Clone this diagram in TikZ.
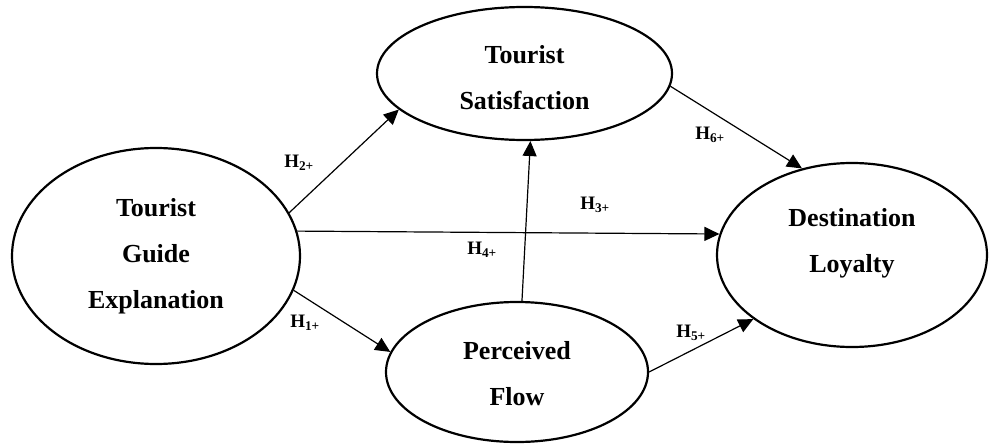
\documentclass[tikz,border=0pt]{standalone}
\usepackage{fontspec}
\setmainfont{Liberation Serif}
\usepackage{tikz}
\usetikzlibrary{arrows.meta,shapes.geometric}

\begin{document}
\begin{tikzpicture}[x=1pt, y=-1pt,
  construct/.style={draw, ellipse, line width=2.2pt, inner sep=0pt, align=center,
                    font=\fontsize{26}{46}\selectfont\bfseries},
  arr/.style={-{Triangle[length=15pt,width=14pt]}, line width=1.2pt},
  hyp/.style={font=\fontsize{19}{19}\selectfont\bfseries, inner sep=0pt}
]
  \useasboundingbox (0,0) rectangle (990,444);
  \node[construct, minimum width=288pt, minimum height=216pt] (tge) at (156,256) {Tourist\\Guide\\Explanation};
  \node[construct, minimum width=295pt, minimum height=133pt] (ts) at (524.5,73.5) {\rule{0pt}{26pt}Tourist\\Satisfaction};
  \node[construct, minimum width=262pt, minimum height=140pt] (pf) at (517,372) {\rule{0pt}{22pt}Perceived\\Flow};
  \node[construct, minimum width=270pt, minimum height=184pt, text depth=30pt] (dl) at (852,255) {Destination\\Loyalty};
  \draw[arr] (tge.18)  -- (ts.196);
  \draw[arr] (tge.10)  -- (dl.171);
  \draw[arr] (tge.-14) -- (pf.171);
  \draw[arr] (pf.86)   -- (ts.-85);
  \draw[arr] (pf.0)    -- (dl.213);
  \draw[arr] (ts.-5)   -- (dl.120);
  \node[hyp] (h2) at (299,163) {H\textsubscript{2+}};
  \node[hyp] (h3) at (595,205) {H\textsubscript{3+}};
  \node[hyp] (h4) at (482,250) {H\textsubscript{4+}};
  \node[hyp] (h1) at (305,323) {H\textsubscript{1+}};
  \node[hyp] (h5) at (691,333) {H\textsubscript{5+}};
  \node[hyp] (h6) at (710,135) {H\textsubscript{6+}};
\end{tikzpicture}
\end{document}
